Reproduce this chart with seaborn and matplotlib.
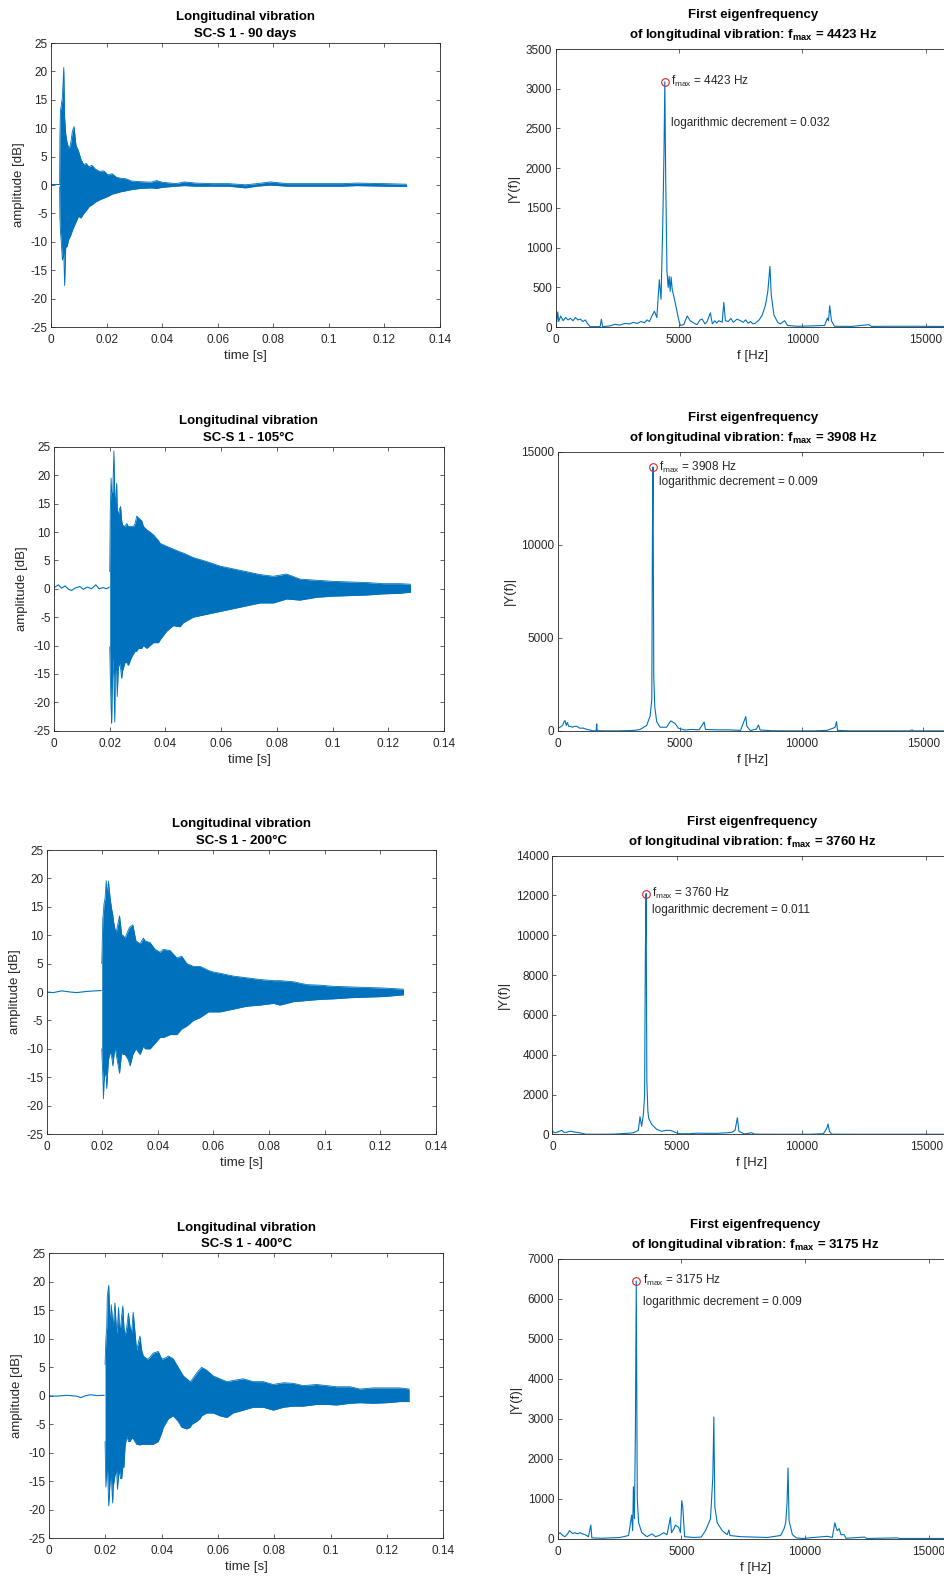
import numpy as np
import matplotlib
matplotlib.use("Agg")
import matplotlib.pyplot as plt
import seaborn as sns

sns.set_theme(style="ticks")
plt.rcParams["font.family"] = ["Liberation Sans", "DejaVu Sans"]
plt.rcParams["axes.unicode_minus"] = False
plt.rcParams["mathtext.fontset"] = "custom"
plt.rcParams["mathtext.rm"] = "Liberation Sans"
plt.rcParams["mathtext.bf"] = "Liberation Sans:bold"
plt.rcParams["mathtext.it"] = "Liberation Sans:italic"

BLUE = "#0072BD"
GREY = "#262626"

# ---------------------------------------------------------------- specimens
states = ["90 days", "105°C", "200°C", "400°C"]
f_max = [4423, 3908, 3760, 3175]
log_decrement = ["0.032", "0.009", "0.011", "0.009"]

# ---------------------------------------------------------------- time records
# quiet trace before the hammer impact
pre_t_90 = [0.0, 0.0015, 0.0031]
pre_a_90 = [0.1, 0.1, 0.1]
pre_t_105 = [0.0, 0.0016, 0.0027, 0.0040, 0.0052, 0.0063, 0.0075, 0.0093, 0.0105,
             0.0120, 0.0135, 0.0150, 0.0162, 0.0177, 0.0189, 0.0199]
pre_a_105 = [0.2, 0.7, 0.1, 0.5, -0.1, -0.3, 0.1, 0.4, -0.1, 0.3, 0.0, 0.7, 0.0, 0.2, 0.0, 0.3]
pre_t_200 = [0.0, 0.0024, 0.0054, 0.0084, 0.0108, 0.0144, 0.0174, 0.0196]
pre_a_200 = [0.0, -0.1, 0.2, 0.0, -0.1, 0.1, 0.2, 0.25]
pre_t_400 = [0.0, 0.0027, 0.0063, 0.0098, 0.0114, 0.0128, 0.0146, 0.0170, 0.0196]
pre_a_400 = [0.0, -0.05, 0.1, -0.05, -0.3, 0.0, 0.2, 0.05, 0.1]

# envelope of the decaying burst: time, upper peak, lower peak
env_t_90 = [0.0031, 0.0032, 0.0034, 0.0037, 0.0041, 0.0046, 0.0049, 0.0053, 0.0058, 0.0064,
            0.0070, 0.0077, 0.0083, 0.0090, 0.0099, 0.0108, 0.0118, 0.0127, 0.0137, 0.0147,
            0.0160, 0.0175, 0.0190, 0.0205, 0.0220, 0.0235, 0.0250, 0.0270, 0.0290, 0.0320,
            0.0360, 0.0380, 0.0400, 0.0450, 0.0480, 0.0520, 0.0580, 0.0640, 0.0700, 0.0740,
            0.0790, 0.0850, 0.0950, 0.1050, 0.1100, 0.1200, 0.1280]
env_up_90 = [0.3, 8.2, 13.0, 14.0, 15.5, 20.7, 12.0, 9.0, 7.5, 6.5,
             7.0, 9.5, 10.3, 7.0, 6.0, 4.5, 3.6, 3.8, 3.2, 3.5,
             2.8, 2.4, 2.5, 1.8, 2.0, 1.4, 1.2, 1.1, 0.7, 0.6,
             0.5, 0.8, 0.5, 0.25, 0.55, 0.35, 0.25, 0.25, 0.05, 0.25,
             0.55, 0.25, 0.25, 0.25, 0.35, 0.25, 0.15]
env_lo_90 = [-0.3, -5.6, -8.0, -10.0, -13.2, -12.0, -17.7, -11.0, -10.8, -9.5,
             -9.0, -8.0, -7.3, -6.5, -5.5, -5.8, -5.0, -4.5, -3.8, -3.5,
             -3.0, -2.6, -2.3, -2.0, -1.6, -1.4, -1.2, -1.0, -0.8, -0.6,
             -0.5, -0.6, -0.4, -0.2, -0.1, -0.2, -0.2, -0.2, -0.5, -0.2,
             0.0, -0.2, -0.2, -0.2, -0.1, -0.2, -0.25]

env_t_105 = [0.0200, 0.0202, 0.0205, 0.0207, 0.0211, 0.0215, 0.0218, 0.0220, 0.0225, 0.0227,
             0.0231, 0.0235, 0.0239, 0.0243, 0.0246, 0.0255, 0.0261, 0.0267, 0.0279, 0.0285,
             0.0291, 0.0297, 0.0303, 0.0315, 0.0321, 0.0333, 0.0345, 0.0357, 0.0375, 0.0381,
             0.0404, 0.0428, 0.0452, 0.0464, 0.0500, 0.0548, 0.0596, 0.0644, 0.0692, 0.0740,
             0.0787, 0.0835, 0.0883, 0.0943, 0.1003, 0.1063, 0.1122, 0.1182, 0.1242, 0.1280]
env_up_105 = [3.0, 13.6, 19.5, 17.0, 17.0, 24.3, 16.0, 15.0, 18.6, 14.0,
              13.0, 14.0, 14.5, 12.0, 11.2, 11.0, 11.5, 11.0, 11.0, 11.0,
              11.5, 12.8, 12.5, 12.0, 11.0, 10.4, 10.0, 9.5, 8.5, 8.0,
              7.5, 7.0, 6.5, 6.3, 5.5, 4.8, 4.0, 3.5, 3.0, 2.5,
              2.2, 2.6, 1.7, 1.5, 1.3, 1.2, 1.1, 0.9, 0.9, 0.8]
env_lo_105 = [-10.2, -15.0, -21.0, -23.7, -12.0, -16.0, -23.5, -14.0, -15.0, -19.0,
              -14.0, -13.0, -14.0, -15.8, -14.5, -13.0, -13.0, -13.5, -12.0, -11.5,
              -11.0, -11.0, -10.5, -10.5, -10.0, -10.5, -10.0, -9.5, -9.5, -9.0,
              -7.5, -6.5, -6.7, -6.0, -5.0, -4.5, -4.0, -3.5, -3.0, -2.5,
              -2.5, -1.8, -2.0, -1.5, -1.3, -1.2, -1.1, -0.9, -0.8, -0.6]

env_t_200 = [0.0198, 0.0202, 0.0204, 0.0206, 0.0210, 0.0214, 0.0216, 0.0218, 0.0222, 0.0228,
             0.0234, 0.0238, 0.0240, 0.0246, 0.0250, 0.0262, 0.0270, 0.0274, 0.0282, 0.0294,
             0.0300, 0.0310, 0.0321, 0.0336, 0.0348, 0.0354, 0.0372, 0.0390, 0.0408, 0.0420,
             0.0444, 0.0468, 0.0486, 0.0504, 0.0528, 0.0552, 0.0582, 0.0600, 0.0624, 0.0672,
             0.0720, 0.0768, 0.0816, 0.0840, 0.0888, 0.0936, 0.0984, 0.1032, 0.1092, 0.1152,
             0.1212, 0.1284]
env_up_200 = [5.0, 13.0, 14.0, 15.5, 16.5, 19.6, 18.0, 17.0, 19.5, 16.5,
              14.5, 13.5, 12.5, 11.0, 10.5, 13.4, 10.0, 10.0, 9.5, 11.0,
              11.5, 11.8, 9.0, 8.5, 9.5, 9.0, 8.7, 7.5, 7.0, 7.5,
              7.3, 6.0, 6.3, 5.0, 4.5, 4.5, 3.8, 3.5, 3.3, 2.8,
              2.5, 2.2, 2.0, 2.0, 1.8, 1.3, 1.2, 1.0, 0.9, 0.8,
              0.7, 0.5]
env_lo_200 = [-10.0, -15.0, -18.8, -16.0, -14.0, -15.0, -17.0, -15.0, -12.0, -10.5,
              -11.5, -13.0, -12.0, -9.5, -11.0, -14.3, -10.5, -11.0, -11.0, -12.0,
              -13.0, -11.0, -10.0, -11.0, -9.5, -10.0, -10.0, -9.0, -8.0, -8.0,
              -7.5, -7.5, -6.5, -6.0, -5.0, -4.5, -3.5, -3.5, -3.5, -3.0,
              -2.5, -2.3, -2.0, -2.3, -1.7, -1.5, -1.3, -1.2, -1.0, -0.9,
              -0.8, -0.5]

env_t_400 = [0.0199, 0.0202, 0.0205, 0.0207, 0.0212, 0.0217, 0.0221, 0.0226, 0.0228, 0.0234,
             0.0240, 0.0243, 0.0247, 0.0250, 0.0254, 0.0258, 0.0262, 0.0266, 0.0270, 0.0276,
             0.0282, 0.0288, 0.0293, 0.0299, 0.0311, 0.0323, 0.0329, 0.0335, 0.0347, 0.0353,
             0.0370, 0.0388, 0.0400, 0.0406, 0.0418, 0.0424, 0.0441, 0.0459, 0.0471, 0.0477,
             0.0489, 0.0501, 0.0507, 0.0524, 0.0536, 0.0542, 0.0560, 0.0583, 0.0607, 0.0631,
             0.0654, 0.0690, 0.0725, 0.0761, 0.0796, 0.0832, 0.0867, 0.0903, 0.0950, 0.0986,
             0.1021, 0.1069, 0.1104, 0.1151, 0.1199, 0.1246, 0.1279]
env_up_400 = [5.5, 10.0, 12.0, 17.5, 19.4, 12.0, 16.0, 13.0, 12.0, 16.3,
              11.0, 12.0, 15.5, 12.0, 12.0, 14.0, 15.8, 12.0, 10.5, 12.0,
              14.5, 12.0, 11.0, 14.7, 8.0, 10.5, 8.0, 7.0, 6.5, 6.5,
              7.5, 7.8, 6.5, 6.5, 6.8, 7.0, 6.5, 5.0, 4.0, 3.5,
              3.0, 2.5, 2.8, 4.0, 4.7, 5.0, 4.5, 3.5, 3.0, 2.5,
              2.7, 3.0, 2.5, 2.5, 2.0, 2.3, 2.2, 1.8, 2.0, 1.8,
              1.6, 1.6, 1.2, 1.4, 1.4, 1.4, 1.2]
env_lo_400 = [-8.0, -16.0, -13.0, -12.0, -19.3, -15.0, -14.0, -18.8, -16.0, -14.0,
              -13.0, -16.4, -14.0, -13.0, -14.5, -14.5, -12.5, -12.5, -9.0, -7.0,
              -8.0, -8.0, -7.5, -7.5, -8.5, -8.6, -8.5, -8.5, -8.5, -8.5,
              -8.5, -8.0, -6.5, -5.5, -4.5, -4.0, -3.5, -4.5, -5.5, -5.6,
              -5.8, -5.5, -5.0, -4.5, -4.0, -3.5, -3.0, -3.0, -3.5, -3.8,
              -3.0, -2.5, -2.0, -2.0, -2.5, -2.0, -1.8, -1.8, -1.5, -1.5,
              -1.6, -1.3, -1.2, -1.3, -1.2, -1.0, -1.0]

# ---------------------------------------------------------------- amplitude spectra
freq_90 = [0, 40, 80, 120, 200, 300, 400, 500, 600, 700, 800, 900, 1000, 1100, 1200, 1300,
           1400, 1800, 1850, 1900, 2200, 2400, 2600, 2800, 3000, 3150, 3300, 3450, 3600, 3700,
           3800, 3900, 4000, 4100, 4200, 4270, 4340, 4390, 4423, 4460, 4510, 4560, 4600, 4640,
           4680, 4720, 4850, 4980, 5050, 5190, 5330, 5450, 5600, 5730, 5850, 5940, 6050, 6140,
           6270, 6350, 6450, 6530, 6610, 6750, 6815, 6880, 7000, 7100, 7200, 7350, 7490, 7600,
           7700, 7800, 7900, 8000, 8100, 8250, 8370, 8500, 8600, 8686, 8740, 8850, 9000, 9100,
           9280, 9400, 9800, 10400, 10900, 11015, 11060, 11110, 11180, 11300, 12000, 12700,
           12800, 13500, 14500, 15500, 16000]
mag_90 = [180, 60, 190, 70, 140, 80, 120, 90, 110, 80, 120, 90, 100, 70, 90, 40,
          5, 5, 100, 5, 15, 35, 25, 45, 40, 60, 45, 70, 55, 90,
          70, 140, 200, 120, 596, 350, 1300, 2200, 3088, 1855, 700, 500, 640, 450,
          630, 480, 300, 100, 20, 30, 140, 80, 50, 30, 90, 100, 40, 70,
          180, 40, 80, 50, 80, 60, 310, 80, 70, 110, 60, 100, 80, 60,
          90, 50, 70, 40, 50, 90, 150, 270, 450, 764, 400, 150, 60, 40,
          80, 20, 10, 15, 20, 113, 80, 268, 80, 10, 8, 30,
          8, 10, 10, 8, 8]

freq_105 = [0, 96, 200, 260, 300, 350, 397, 450, 506, 600, 700, 780, 900, 1053, 1200, 1327,
            1400, 1580, 1600, 1620, 2000, 2500, 2968, 3200, 3380, 3650, 3790, 3860, 3885, 3908,
            3940, 3980, 4060, 4200, 4470, 4560, 4640, 4750, 4815, 4950, 5200, 5500, 5800, 6005,
            6060, 6500, 7000, 7500, 7715, 7760, 7900, 8150, 8235, 8300, 8800, 9500, 10500, 11040,
            11300, 11380, 11436, 11480, 12000, 13000, 14450, 14530, 14600, 16000]
mag_105 = [143, 200, 300, 500, 555, 300, 450, 250, 250, 200, 250, 250, 150, 150, 80, 50,
           10, 10, 376, 10, 5, 5, 20, 40, 80, 300, 800, 1700, 10500, 14176,
           2953, 1300, 500, 200, 200, 400, 537, 450, 400, 150, 50, 80, 60, 483,
           80, 60, 60, 30, 770, 250, 20, 100, 322, 50, 10, 5, 5, 30,
           150, 200, 500, 30, 5, 5, 5, 60, 5, 5]

freq_200 = [0, 100, 174, 280, 374, 470, 575, 680, 775, 870, 976, 1100, 1243, 1350, 2000, 2447,
            2848, 3100, 3249, 3449, 3516, 3580, 3650, 3700, 3730, 3760, 3790, 3830, 3864, 3984,
            4184, 4385, 4550, 4719, 4850, 4920, 5100, 5500, 5789, 6200, 6600, 6992, 7200, 7326,
            7420, 7480, 7700, 7995, 8100, 8800, 10300, 10869, 11003, 11056, 11110, 11200, 12000,
            16000]
mag_200 = [150, 80, 100, 150, 200, 100, 100, 150, 150, 120, 100, 80, 30, 5, 5, 10,
           40, 60, 80, 200, 888, 400, 1000, 1976, 9095, 12094, 2647, 1200, 800, 500,
           250, 150, 200, 200, 150, 100, 30, 30, 60, 50, 50, 80, 100, 200,
           837, 150, 20, 80, 10, 5, 5, 30, 300, 519, 150, 10, 5,
           5]

freq_400 = [0, 95, 200, 297, 400, 473, 600, 703, 800, 905, 1000, 1108, 1243, 1338, 1380, 1800,
            2122, 2527, 2865, 2990, 3030, 3060, 3100, 3140, 3175, 3216, 3270, 3400, 3608, 3811,
            3950, 4100, 4284, 4419, 4554, 4600, 4700, 4757, 4892, 4959, 5014, 5054, 5130, 5500,
            5800, 5973, 6176, 6270, 6311, 6351, 6446, 6649, 6850, 6919, 6960, 7392, 7932, 8473,
            9014, 9150, 9216, 9270, 9311, 9351, 9486, 9650, 9900, 10905, 11100, 11203, 11243,
            11300, 11378, 11450, 11581, 11650, 12392, 12500, 13743, 13800, 16000]
mag_400 = [100, 150, 80, 50, 120, 200, 130, 150, 120, 150, 120, 100, 50, 342, 20, 10,
           20, 30, 80, 592, 200, 1301, 500, 2653, 6449, 1001, 400, 150, 50, 120,
           50, 80, 150, 100, 534, 150, 250, 342, 280, 150, 951, 800, 50, 30,
           40, 200, 500, 1552, 3045, 800, 400, 200, 100, 217, 80, 50, 40, 30,
           80, 250, 400, 901, 1769, 450, 100, 20, 5, 60, 30, 400, 300,
           200, 250, 100, 100, 10, 40, 5, 20, 5, 5]

pre_t = [pre_t_90, pre_t_105, pre_t_200, pre_t_400]
pre_a = [pre_a_90, pre_a_105, pre_a_200, pre_a_400]
env_t = [env_t_90, env_t_105, env_t_200, env_t_400]
env_up = [env_up_90, env_up_105, env_up_200, env_up_400]
env_lo = [env_lo_90, env_lo_105, env_lo_200, env_lo_400]
freqs = [freq_90, freq_105, freq_200, freq_400]
mags = [mag_90, mag_105, mag_200, mag_400]

y_lims = [3500, 15000, 14000, 7000]
y_steps = [500, 5000, 2000, 1000]
# offset (points) of the second annotation line below the peak label
dec_offsets = [-30.0, -11.0, -12.0, -15.5]

# ---------------------------------------------------------------- layout
left_pos = [(0.0540, 0.7926, 0.4121, 0.1801),
            (0.0572, 0.5367, 0.4131, 0.1799),
            (0.0495, 0.2809, 0.4121, 0.1801),
            (0.0519, 0.0245, 0.4177, 0.1807)]
right_pos = [(0.5887, 0.7926, 0.4180, 0.1763),
             (0.5908, 0.5365, 0.4132, 0.1771),
             (0.5851, 0.2807, 0.4227, 0.1767),
             (0.5908, 0.0243, 0.4193, 0.1774)]

TICK_FS = 8.5
LABEL_FS = 9.5
TITLE_FS = 9.5

fig = plt.figure(figsize=(9.44, 15.77), dpi=100)


def style_axes(ax):
    for sp in ax.spines.values():
        sp.set_visible(True)
        sp.set_color(GREY)
        sp.set_linewidth(0.6)
    ax.tick_params(direction="in", top=True, right=True, length=3, width=0.5,
                   colors=GREY, labelsize=TICK_FS, labelcolor=GREY)
    ax.tick_params(axis="x", pad=5)
    ax.tick_params(axis="y", pad=2.5)
    ax.set_facecolor("white")


def fmt_time(v):
    s = f"{v:.2f}".rstrip("0").rstrip(".")
    return "0" if s in ("", "-0") else s


for i in range(4):
    # ---- time signal
    ax = fig.add_axes(left_pos[i])
    t = np.array(env_t[i])
    up = np.array(env_up[i])
    lo = np.array(env_lo[i])
    sns.lineplot(x=pre_t[i], y=pre_a[i], ax=ax, color=BLUE, linewidth=0.8,
                 estimator=None, sort=False)
    ax.fill_between(t, lo, up, color=BLUE, linewidth=0)
    sns.lineplot(x=t, y=up, ax=ax, color=BLUE, linewidth=0.6, estimator=None, sort=False)
    sns.lineplot(x=t, y=lo, ax=ax, color=BLUE, linewidth=0.6, estimator=None, sort=False)
    ax.set_xlim(0, 0.14)
    ax.set_ylim(-25, 25)
    xt = np.arange(0, 0.1401, 0.02)
    ax.set_xticks(xt)
    ax.set_xticklabels([fmt_time(v) for v in xt])
    ax.set_yticks(np.arange(-25, 26, 5))
    ax.set_yticklabels([str(v) for v in range(-25, 26, 5)])
    style_axes(ax)
    ax.set_xlabel("time [s]", fontsize=LABEL_FS, color=GREY, labelpad=3)
    ax.set_ylabel("amplitude [dB]", fontsize=LABEL_FS, color=GREY, labelpad=4)
    ax.set_title(f"Longitudinal vibration\nSC-S 1 - {states[i]}", fontsize=TITLE_FS,
                 fontweight="bold", color="black", pad=4.5, linespacing=1.5)

    # ---- amplitude spectrum
    ax = fig.add_axes(right_pos[i])
    f = np.array(freqs[i], dtype=float)
    m = np.array(mags[i], dtype=float)
    sns.lineplot(x=f, y=m, ax=ax, color=BLUE, linewidth=0.8, estimator=None, sort=False)
    k = int(np.argmax(m))
    ax.plot([f[k]], [m[k]], marker="o", markersize=5.5, markerfacecolor="none",
            markeredgecolor="#D62728", markeredgewidth=0.8, linestyle="none")
    ax.annotate(rf"$\mathregular{{f_{{max}}}}$ = {f_max[i]} Hz", xy=(f[k], m[k]),
                xytext=(4.5, 0), textcoords="offset points", va="center", ha="left",
                fontsize=TICK_FS, color=GREY)
    ax.annotate(f"logarithmic decrement = {log_decrement[i]}", xy=(f[k], m[k]),
                xytext=(4.5, dec_offsets[i]), textcoords="offset points", va="center",
                ha="left", fontsize=TICK_FS, color=GREY)
    ax.set_xlim(0, 16000)
    ax.set_ylim(0, y_lims[i])
    ax.set_xticks([0, 5000, 10000, 15000])
    ax.set_xticklabels(["0", "5000", "10000", "15000"])
    yt = list(range(0, y_lims[i] + 1, y_steps[i]))
    ax.set_yticks(yt)
    ax.set_yticklabels([str(v) for v in yt])
    style_axes(ax)
    ax.set_xlabel("f [Hz]", fontsize=LABEL_FS, color=GREY, labelpad=3)
    ax.set_ylabel("|Y(f)|", fontsize=LABEL_FS, color=GREY, labelpad=4)
    ax.set_title("First eigenfrequency\n"
                 rf"of longitudinal vibration: $\mathbf{{f_{{max}}}}$ = {f_max[i]} Hz",
                 fontsize=TITLE_FS, fontweight="bold", color="black", pad=8,
                 linespacing=1.5)

fig.savefig("out.png", dpi=100)
